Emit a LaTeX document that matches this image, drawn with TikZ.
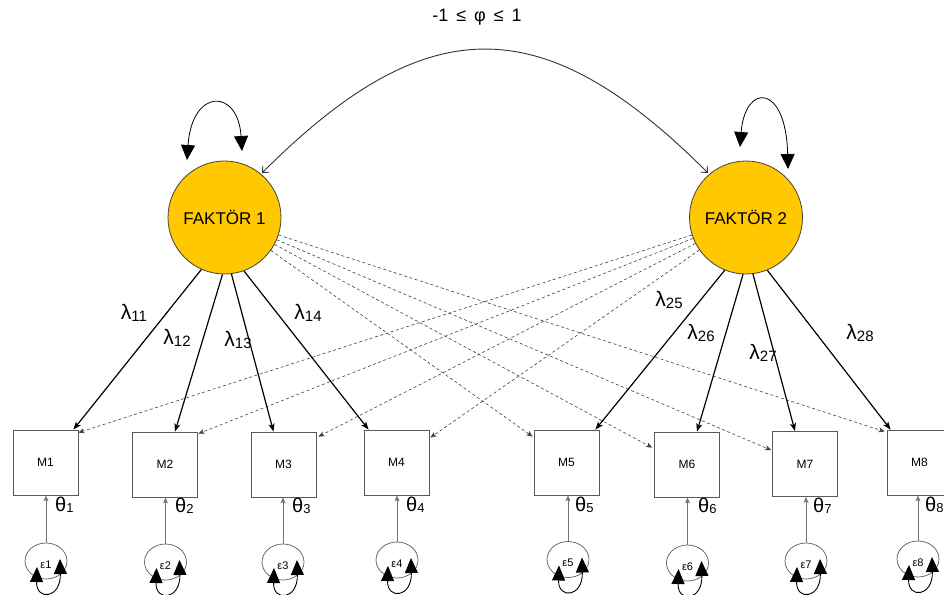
\documentclass[tikz,border=0pt]{standalone}
\usepackage{fontspec}
\setmainfont{Liberation Sans}
\usetikzlibrary{arrows.meta,calc,shapes.geometric}
\definecolor{facyel}{HTML}{FFC800}
\definecolor{edgegray}{HTML}{333333}
\newcommand{\lamsub}[2]{#1{\fontsize{15}{15}\selectfont\raisebox{-2pt}{#2}}}
\newcommand{\thsub}[1]{θ{\fontsize{13}{13}\selectfont\raisebox{-1pt}{#1}}}
\begin{document}
\begin{tikzpicture}[x=1pt,y=-1pt,
  factor/.style={circle, draw=black!75, fill=facyel, minimum size=113pt, inner sep=0pt, line width=0.8pt, font=\fontsize{17}{20}\selectfont},
  obs/.style={rectangle, draw=black!65, minimum width=65pt, minimum height=65pt, inner sep=0pt, line width=0.8pt, font=\fontsize{12}{14}\selectfont},
  err/.style={ellipse, draw=black!65, minimum width=42pt, minimum height=36pt, inner sep=0pt, line width=0.7pt},
  errlab/.style={inner sep=0pt, font=\fontsize{11}{13}\selectfont},
  lam/.style={inner sep=0pt, font=\fontsize{21}{23}\selectfont},
  thlab/.style={inner sep=0pt, anchor=west, font=\fontsize{20}{22}\selectfont},
  load/.style={line width=1.2pt, -{Stealth[length=8pt,width=6pt,inset=2pt]}},
  cross/.style={line width=0.6pt, draw=black!75, dash pattern=on 3pt off 2.5pt, -{Stealth[length=6pt,width=5pt,inset=1.5pt]}},
  errarrow/.style={line width=0.8pt, draw=black!55, -{Stealth[length=6pt,width=5pt,inset=1.5pt]}},
  bigloop/.style={line width=0.8pt, {Triangle[length=15pt,width=14pt]}-{Triangle[length=15pt,width=14pt]}},
  smallloop/.style={line width=0.9pt, {Triangle[length=15pt,width=13pt]}-{Triangle[length=15pt,width=13pt]}},
  corr/.style={line width=0.9pt, draw=edgegray, {Straight Barb[length=5pt,width=9pt]}-{Straight Barb[length=5pt,width=9pt]}}
]
\useasboundingbox (0,0) rectangle (944,594);
\clip (0,0) rectangle (944,594);

% factors
\node[factor] (F1) at (224.5,217.5) {FAKTÖR 1};
\node[factor] (F2) at (746,217.5) {FAKTÖR 2};

% observed
\node[obs] (M1) at (45.5,462.5) {M1};
\node[obs] (M2) at (165,464.5) {M2};
\node[obs] (M3) at (283.5,464.5) {M3};
\node[obs] (M4) at (396.5,462.5) {M4};
\node[obs] (M5) at (566.5,462.5) {M5};
\node[obs] (M6) at (687,464.5) {M6};
\node[obs] (M7) at (805,464) {M7};
\node[obs] (M8) at (919.5,462.5) {M8};

% errors
\node[err] (e1) at (46,561) {};
\node[err] (e2) at (165.5,562) {};
\node[err] (e3) at (283,562) {};
\node[err] (e4) at (397,560) {};
\node[err] (e5) at (568,559.5) {};
\node[err] (e6) at (687.5,563) {};
\node[err] (e7) at (806,561) {};
\node[err] (e8) at (918,559) {};

\foreach \i in {1,...,8}{
  \node[errlab] (el\i) at ([yshift=-3.5pt]e\i.center) {ε\i};
  \draw[errarrow] (e\i) -- (e\i |- M\i.south);
  \draw[smallloop] ($(e\i)+(-9,6)$) .. controls ($(e\i)+(-10,40)$) and ($(e\i)+(15,38)$) .. ($(e\i)+(14,-2)$);
}

% factor variance loops
\draw[bigloop] ($(F1)+(-37.5,-57.5)$) .. controls ($(F1)+(-32.5,-129.5)$) and ($(F1)+(13.5,-129.5)$) .. ($(F1)+(17.5,-66.5)$);
\draw[bigloop] ($(F2)+(-6,-70.5)$) .. controls ($(F2)+(-1,-134.5)$) and ($(F2)+(40,-134.5)$) .. ($(F2)+(42,-48.5)$);

% factor correlation
\draw[corr] ($(F1)+(37.5,-44.5)$) .. controls ($(F1)+(202.5,-209.5)$) and ($(F2)+(-203,-209.5)$) .. ($(F2)+(-38,-44.5)$);
\node[inner sep=0pt, font=\fontsize{18}{20}\selectfont] (phi) at (477,17) {-1\hspace{8pt}≤\hspace{8pt}φ\hspace{8pt}≤\hspace{8pt}1};

% cross (dashed) paths
\draw[cross] (F2) -- ([yshift=-3pt]M1.north east);
\draw[cross] (F2) -- ([yshift=-2pt,xshift=0.5pt]M2.north east);
\draw[cross] (F2) -- ([yshift=-5pt,xshift=2pt]M3.north east);
\draw[cross] (F2) -- ([yshift=-8pt,xshift=1pt]M4.north east);
\draw[cross] (F1) -- ([yshift=-7pt,xshift=-1pt]M5.north west);
\draw[cross] (F1) -- ([yshift=-16pt,xshift=-2pt]M6.north west);
\draw[cross] (F1) -- ([yshift=-19pt,xshift=-1pt]M7.north west);
\draw[cross] (F1) -- ([yshift=-2pt,xshift=-2pt]M8.north west);

% loadings
\draw[load] (F1.246.8) -- ([xshift=-5pt]M1.north east);
\draw[load] (F1.268.5) -- ([xshift=10pt]M2.north);
\draw[load] (F1.277.4) -- ([xshift=-10pt]M3.north);
\draw[load] (F1.290.6) -- ([xshift=5pt]M4.north west);
\draw[load] (F2.248.9) -- ([xshift=-4pt]M5.north east);
\draw[load] (F2.267) -- ([xshift=10pt]M6.north);
\draw[load] (F2.277.9) -- ([xshift=-10pt]M7.north);
\draw[load] (F2.292.9) -- ([xshift=4pt]M8.north west);

% loading labels
\node[lam] (l11) at (134,313) {\lamsub{λ}{11}};
\node[lam] (l12) at (177,338) {\lamsub{λ}{12}};
\node[lam] (l13) at (238,340) {\lamsub{λ}{13}};
\node[lam] (l14) at (308,313) {\lamsub{λ}{14}};
\node[lam] (l25) at (669,300) {\lamsub{λ}{25}};
\node[lam] (l26) at (701,333) {\lamsub{λ}{26}};
\node[lam] (l27) at (763,353) {\lamsub{λ}{27}};
\node[lam] (l28) at (860,333) {\lamsub{λ}{28}};

% theta labels
\node[thlab] (t1) at (55,505) {\thsub{1}};
\node[thlab] (t2) at (175,506) {\thsub{2}};
\node[thlab] (t3) at (292,506) {\thsub{3}};
\node[thlab] (t4) at (406,505) {\thsub{4}};
\node[thlab] (t5) at (575,505) {\thsub{5}};
\node[thlab] (t6) at (698,506) {\thsub{6}};
\node[thlab] (t7) at (813,506) {\thsub{7}};
\node[thlab] (t8) at (925,505) {\thsub{8}};
\end{tikzpicture}
\end{document}
